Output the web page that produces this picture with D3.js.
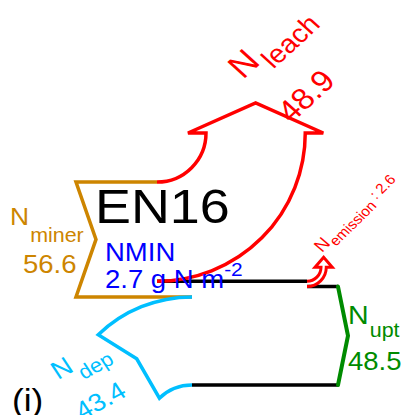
<!DOCTYPE html>
<html>
<head>
<meta charset="utf-8">
<script src="https://cdn.jsdelivr.net/npm/d3@7"></script>
<style>
  body { margin: 0; background: #fff; }
  text { font-family: "Liberation Sans", Arial, sans-serif; }
</style>
</head>
<body>
<script>
// fluxes in g N m-2
var fluxNames = ["miner", "leach", "emission", "upt", "dep"]
var fluxValues = [56.6, 48.9, 2.6, 48.5, 43.4]
var fluxLabels = ["56.6", "48.9", "2.6", "48.5", "43.4"]
var site = "EN16"
var nminValue = 2.7
var panel = "(i)"

var width = 403
var height = 415

var colMiner = "#cd8500"
var colLeach = "#ff0000"
var colUpt = "#008b00"
var colDep = "#00bfff"
var lw = 3.5
var stretch = 1.1   // text in the original is a bit wide

var svg = d3.select("body")
            .append("svg")
            .attr("width", width)
            .attr("height", height)

// flux value -> band width in px
var w = d3.scaleLinear()
          .domain([0, 100])
          .range([0, 203])

var v = {}
fluxNames.forEach(function(n, i){ v[n] = fluxValues[i] })

// layout anchors
var cx = 157, cy = 133, rIn = 49
var xMinL = 76, notchMin = 20
var yMinTop = cy + rIn
var yMinBot = yMinTop + w(v.miner)
var rOut = rIn + w(v.leach)
var yPool = cy + rOut
var xEm = 307, rEm = 14
var eCy = yPool - rEm
var yUptTop = yPool + w(v.emission)
var yUptBot = yUptTop + w(v.upt)
var xUpt = 338
var dX = 192, dR = 135, dTheta = 44 * Math.PI / 180
var dr = dR - w(v.dep)
var dCy = yMinBot + dR

var strokeIt = function(d, col, width_){
  svg.append("path")
     .attr("d", d.toString())
     .attr("fill", "none")
     .attr("stroke", col)
     .attr("stroke-width", width_ || lw)
     .attr("stroke-linejoin", "miter")
}

// pool boundaries
var pool = d3.path()
pool.moveTo(cx, yPool); pool.lineTo(xEm, yPool)
pool.moveTo(xEm, yUptTop); pool.lineTo(xUpt, yUptTop)
pool.moveTo(dX, dCy - dr); pool.lineTo(xUpt, dCy - dr)
strokeIt(pool, "#000")

// mineralisation input
var pm = d3.path()
pm.moveTo(cx, yMinTop)
pm.lineTo(xMinL, yMinTop)
pm.lineTo(xMinL + notchMin, (yMinTop + yMinBot) / 2)
pm.lineTo(xMinL, yMinBot)
pm.lineTo(dX, yMinBot)
strokeIt(pm, colMiner)

// leaching
var pl = d3.path()
pl.moveTo(cx, yMinTop)
pl.arc(cx, cy, rIn, Math.PI / 2, 0, true)
pl.lineTo(cx + rIn - 18, cy)
pl.lineTo(cx + (rIn + rOut) / 2, cy - 30)
pl.lineTo(cx + rOut + 18, cy)
pl.lineTo(cx + rOut, cy)
pl.arc(cx, cy, rOut, 0, Math.PI / 2, false)
strokeIt(pl, colLeach)

// emission
var pe = d3.path()
var rEo = rEm + w(v.emission)
pe.moveTo(xEm, yPool)
pe.arc(xEm, eCy, rEm, Math.PI / 2, 0, true)
pe.lineTo(xEm + rEm - 6, eCy)
pe.lineTo(xEm + (rEm + rEo) / 2, eCy - 10)
pe.lineTo(xEm + rEo + 6, eCy)
pe.lineTo(xEm + rEo, eCy)
pe.arc(xEm, eCy, rEo, 0, Math.PI / 2, false)
strokeIt(pe, colLeach, 3)

// uptake
var pu = d3.path()
pu.moveTo(xUpt, yUptTop)
pu.lineTo(xUpt + 10, (yUptTop + yUptBot) / 2)
pu.lineTo(xUpt, yUptBot)
svg.append("path")
   .attr("d", pu.toString())
   .attr("fill", "none")
   .attr("stroke", colUpt)
   .attr("stroke-width", 4)
   .attr("stroke-linecap", "round")

// deposition
var a = -Math.PI / 2 - dTheta
var rm = (dR + dr) / 2
var pd = d3.path()
pd.moveTo(dX, yMinBot)
pd.arc(dX, dCy, dR, -Math.PI / 2, a, true)
pd.lineTo(dX + rm * Math.cos(a) + 11 * -Math.sin(a), dCy + rm * Math.sin(a) + 11 * Math.cos(a))
pd.lineTo(dX + dr * Math.cos(a), dCy + dr * Math.sin(a))
pd.arc(dX, dCy, dr, a, -Math.PI / 2, false)
strokeIt(pd, colDep)

// labels: a group at (x,y), widened and rotated, pieces are tspans
var textAt = function(x, y, rot, col, pieces){
  var g = svg.append("g")
             .attr("transform", "translate(" + x + "," + y + ") scale(" + stretch + ",1) rotate(" + rot + ")")
  var t = g.append("text").attr("fill", col)
  pieces.forEach(function(p){
    var s = t.append("tspan").attr("font-size", p.size).text(p.t)
    if (p.x != null) s.attr("x", p.x)
    if (p.y != null) s.attr("y", p.y)
    if (p.dx) s.attr("dx", p.dx)
    if (p.dy) s.attr("dy", p.dy)
  })
  return g
}

textAt(95, 223, 0, "#000", [{t: site, size: 49}])
textAt(105, 261, 0, "blue", [{t: "NMIN", size: 25}])
textAt(105, 288, 0, "blue", [{t: nminValue + " g N m", size: 25},
                             {t: "-2", size: 19, dy: -12}])

// miner
textAt(10, 225, 0, colMiner, [{t: "N", size: 24}, {t: fluxNames[0], size: 19.5, dx: 1, dy: 17}])
textAt(23, 273, 0, colMiner, [{t: fluxLabels[0], size: 25}])

// upt
textAt(348, 324, 0, colUpt, [{t: "N", size: 26}, {t: fluxNames[3], size: 19.5, dx: 1, dy: 13}])
textAt(348, 370, 0, colUpt, [{t: fluxLabels[3], size: 25}])

// leach
textAt(243, 80, -45, colLeach, [{t: "N", size: 33}, {t: fluxNames[1], size: 26, dx: 3, dy: 12},
                                {t: fluxLabels[1], size: 30, x: 0, y: 62}])

// emission
textAt(322, 253, -47, colLeach, [{t: "N", size: 17}, {t: fluxNames[2], size: 14, dx: 1, dy: 5},
                                 {t: " : " + fluxLabels[2], size: 14, dy: -5}])

// dep
textAt(58, 380, -31, colDep, [{t: "N", size: 25}, {t: fluxNames[4], size: 20, dx: 2, dy: 12},
                              {t: fluxLabels[4], size: 25, x: -2, y: 46}])

textAt(12, 411, 0, "#000", [{t: panel, size: 32}])
</script>
</body>
</html>
